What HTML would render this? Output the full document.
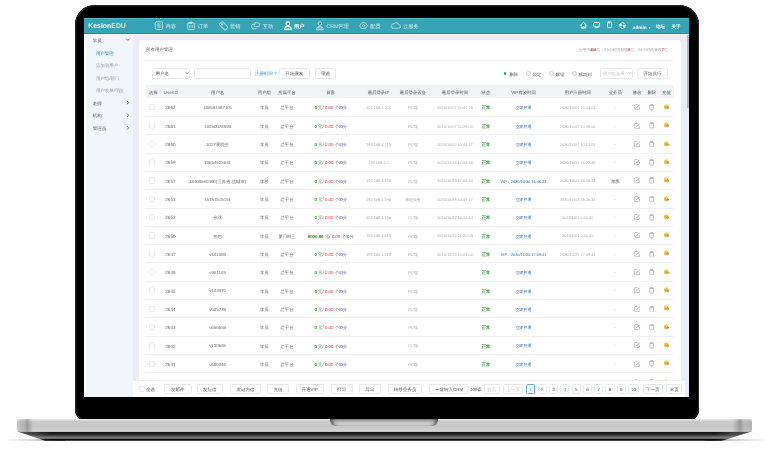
<!DOCTYPE html><html><head><meta charset="utf-8"><style>
*{margin:0;padding:0;box-sizing:border-box}
html,body{width:774px;height:455px;overflow:hidden;background:#fff}
body{position:relative;font-family:"Liberation Sans",sans-serif;color:#555}
.abs{position:absolute}
.t{position:absolute;white-space:nowrap;line-height:1;text-rendering:geometricPrecision}
.k{display:inline-block;width:1em;text-align:center;font-style:normal}
.scr{position:absolute;left:84px;top:18px;width:605px;height:379px;overflow:hidden;background:#eaedf5}
.in{position:absolute;left:-84px;top:-18px;width:774px;height:455px}
.bx{position:absolute;border:1px solid #e6e8ec;border-radius:1.5px;background:#fff}
.cb{position:absolute;width:6.2px;height:6.2px;border:0.9px solid #e6e8eb;border-radius:1.6px;background:#fff}
</style></head><body><div class="abs" style="left:0;top:0;width:774px;height:455px;filter:blur(.3px)">
<div class="abs" style="left:75px;top:5px;width:624px;height:417px;background:#000;border-radius:20px 20px 13px 13px;box-shadow:inset 0 0 0 1px #262626,inset 0 0 0 1.6px #111"></div>
<div class="abs" style="left:5px;top:439.3px;width:60px;height:1.6px;background:linear-gradient(90deg,rgba(0,0,0,0),rgba(0,0,0,.25) 70%,rgba(0,0,0,.5));filter:blur(.4px)"></div>
<div class="abs" style="left:705px;top:439.3px;width:62px;height:1.6px;background:linear-gradient(90deg,rgba(0,0,0,.5),rgba(0,0,0,.25) 30%,rgba(0,0,0,0));filter:blur(.4px)"></div>
<div class="abs" style="left:17px;top:431.2px;width:735px;height:9.5px;clip-path:polygon(0 0,100% 0,calc(100% - 30px) 100%,28px 100%);background:linear-gradient(90deg,rgba(140,140,140,.55) 0,rgba(140,140,140,.3) 18px,rgba(140,140,140,0) 34px,rgba(140,140,140,0) calc(100% - 36px),rgba(140,140,140,.3) calc(100% - 20px),rgba(140,140,140,.55) 100%),linear-gradient(#1e1e1e 0,#141414 18%,#2e2e2e 38%,#6a6a6a 60%,#878787 70%,#555 77%,#0a0a0a 85%,#050505 100%)"></div>
<div class="abs" style="left:17px;top:419px;width:735px;height:12.7px;border-radius:1.5px 1.5px 3px 3px;background:linear-gradient(90deg,rgba(255,255,255,.08) 0,rgba(0,0,0,.07) 3px,rgba(0,0,0,.1) 7px,rgba(0,0,0,.22) 10.5px,rgba(0,0,0,.1) 13.5px,rgba(0,0,0,0) 16px,rgba(0,0,0,0) calc(100% - 20px),rgba(0,0,0,.1) calc(100% - 16px),rgba(0,0,0,.24) calc(100% - 12px),rgba(0,0,0,.08) calc(100% - 8px),rgba(0,0,0,.1) 100%),linear-gradient(#f0f0f0 0,#dddddd 1.1px,#cacaca 2.3px,#c7c7c7 50%,#cbcbcb 75%,#d3d3d3 90%,#b8b8b8 100%)"></div>
<div class="abs" style="left:330px;top:419.3px;width:108px;height:6.7px;border-radius:0 0 6px 6px/0 0 6px 6px;background:linear-gradient(#8e8e8e,#bdbdbd 45%,#d2d2d2 80%,#dadada);box-shadow:inset 4px 0 3px -1px rgba(0,0,0,.45),inset -4px 0 3px -1px rgba(0,0,0,.45)"></div>
<div class="scr"><div class="in">
<div class="abs" style="left:84px;top:18px;width:605px;height:15.7px;background:#36a4b7;border-top:1px solid #45bccb;border-bottom:1.4px solid #1d91a4"></div>
<div class="abs" style="left:84px;top:33.7px;width:605px;height:1.1px;background:#fbfcff"></div>
<div class="t" style="left:88.30px;top:24px;font-size:6.9px;color:#fff;font-weight:bold">Kesion<span style="color:#ece394">EDU</span></div>
<svg class="abs" style="left:0;top:0" width="774" height="60" viewBox="0 0 774 60">
<g fill="none" stroke="rgba(255,255,255,.6)" stroke-width="0.95" stroke-linecap="round" stroke-linejoin="round">
<rect x="155.3" y="21.7" width="7.2" height="7.8" rx="1.3"/><path d="M157.4 24.1h3M157.4 25.7h3M157.4 27.3h3"/>
<rect x="187.6" y="22.7" width="6.8" height="7" rx="1.3"/><path d="M189.7 22.1h2.6v1.4h-2.6z"/><path d="M189.8 25.4v2.5M192.2 25.4v2.5"/>
<g transform="rotate(-45 223.6 25.85)"><rect x="221.4" y="21.6" width="4.4" height="8.5" rx="1"/><circle cx="223.6" cy="23.6" r=".6"/></g>
<rect x="254.3" y="22.8" width="5.1" height="3.9" rx="1"/><path d="M254.3 24.5h-1.6a1 1 0 0 0-1 1v2a1 1 0 0 0 1 1h.6v1l1.4-1h1.6"/>
<circle cx="319.9" cy="23.5" r="1.75"/><path d="M316.6 29.4c0-2 1.4-3.2 3.3-3.2s3.3 1.2 3.3 3.2z"/><circle cx="318.8" cy="28" r=".35"/><circle cx="321" cy="28" r=".35"/>
<path d="M359.8 25.6l2.1-2.9h3.5l2.1 2.9-2.1 2.9h-3.5z"/><circle cx="363.65" cy="25.6" r="1.1"/>
<path d="M392.6 28.2h6.2a1.7 1.7 0 0 0 .1-3.4a2.8 2.8 0 0 0-5.2-.7a1.9 1.9 0 0 0-1.1 4.1z"/>
</g>
<g fill="none" stroke="#fff" stroke-width="1.15" stroke-linecap="round" stroke-linejoin="round">
<circle cx="287.9" cy="23.8" r="1.9"/><path d="M284.6 29.4c0-2 1.4-3.1 3.3-3.1s3.3 1.1 3.3 3.1z"/>
</g>
<g fill="none" stroke="rgba(255,255,255,.92)" stroke-width="1" stroke-linecap="round" stroke-linejoin="round">
<path d="M580.4 25.3l3.1-3 3.1 3M581.3 24.6v3.4h4.4v-3.4M582.9 28v-1.6h1.2V28"/>
<rect x="593.6" y="22.5" width="6" height="4.2" rx="1"/><path d="M595.3 27.6h2.6"/>
<rect x="607.5" y="21.9" width="4" height="5.8" rx="1"/><path d="M609 23h1"/>
<path d="M620.3 24.1a2.6 2.6 0 0 1 4.6 0M624.8 27.1a2.6 2.6 0 0 1-4.6 0"/><path d="M619.4 25.5l1.1-1.6 1.2 1.3zM625.6 25.7l-1.1 1.6-1.2-1.3z" fill="#fff"/>
</g></svg>
<div class="t" style="left:165.50px;top:25px;font-size:5.2px;color:rgba(255,255,255,.82);"><i class="k">内</i><i class="k">容</i></div>
<div class="t" style="left:197.70px;top:25px;font-size:5.2px;color:rgba(255,255,255,.82);"><i class="k">订</i><i class="k">单</i></div>
<div class="t" style="left:230.00px;top:25px;font-size:5.2px;color:rgba(255,255,255,.82);"><i class="k">营</i><i class="k">销</i></div>
<div class="t" style="left:262.80px;top:25px;font-size:5.2px;color:rgba(255,255,255,.82);"><i class="k">互</i><i class="k">动</i></div>
<div class="t" style="left:294.00px;top:25px;font-size:5.2px;color:#fff;font-weight:bold"><i class="k">用</i><i class="k">户</i></div>
<div class="t" style="left:326.50px;top:25px;font-size:5.2px;color:rgba(255,255,255,.82);">CRM<i class="k">管</i><i class="k">理</i></div>
<div class="t" style="left:370.30px;top:25px;font-size:5.2px;color:rgba(255,255,255,.82);"><i class="k">配</i><i class="k">置</i></div>
<div class="t" style="left:403.00px;top:25px;font-size:5.2px;color:rgba(255,255,255,.82);"><i class="k">云</i><i class="k">服</i><i class="k">务</i></div>
<div class="t" style="left:632.80px;top:26px;font-size:4.7px;color:#fff;font-weight:bold">admin <span style="font-size:.7em">▼</span></div>
<div class="t" style="left:656.00px;top:25px;font-size:4.6px;color:#fff;font-weight:bold"><i class="k">论</i><i class="k">坛</i></div>
<div class="t" style="left:671.50px;top:25px;font-size:4.6px;color:#fff;font-weight:bold"><i class="k">关</i><i class="k">于</i></div>
<div class="abs" style="left:84px;top:35px;width:49px;height:362px;background:#fff"></div><div class="abs" style="left:85.8px;top:35px;width:47.2px;height:362px;background:#f2f5fc"></div>
<div class="t" style="left:92.80px;top:39px;font-size:4.45px;color:#555;"><i class="k">学</i><i class="k">员</i></div>
<svg class="abs" style="left:0;top:0" width="140" height="140"><path d="M126.2 38.60L127.9 40.40 129.6 38.60" fill="none" stroke="#666" stroke-width=".85"/></svg>
<div class="t" style="left:95.90px;top:52px;font-size:4.45px;color:#1b9ab0;"><i class="k">用</i><i class="k">户</i><i class="k">管</i><i class="k">理</i></div>
<div class="t" style="left:95.90px;top:64px;font-size:4.45px;color:#999;"><i class="k">添</i><i class="k">加</i><i class="k">新</i><i class="k">用</i><i class="k">户</i></div>
<div class="t" style="left:95.90px;top:77px;font-size:4.45px;color:#999;"><i class="k">用</i><i class="k">户</i><i class="k">组</i>/<i class="k">部</i><i class="k">门</i></div>
<div class="t" style="left:95.90px;top:89px;font-size:4.45px;color:#999;"><i class="k">用</i><i class="k">户</i><i class="k">表</i><i class="k">单</i>/<i class="k">字</i><i class="k">段</i></div>
<div class="t" style="left:92.80px;top:102px;font-size:4.45px;color:#555;"><i class="k">老</i><i class="k">师</i></div>
<svg class="abs" style="left:0;top:0" width="140" height="140"><path d="M126.9 100.80L128.7 102.60 126.9 104.40" fill="none" stroke="#666" stroke-width=".85"/></svg>
<div class="t" style="left:92.80px;top:114px;font-size:4.45px;color:#555;"><i class="k">机</i><i class="k">构</i></div>
<svg class="abs" style="left:0;top:0" width="140" height="140"><path d="M126.9 113.40L128.7 115.20 126.9 117.00" fill="none" stroke="#666" stroke-width=".85"/></svg>
<div class="t" style="left:92.80px;top:127px;font-size:4.45px;color:#555;"><i class="k">管</i><i class="k">理</i><i class="k">员</i></div>
<svg class="abs" style="left:0;top:0" width="140" height="140"><path d="M126.9 126.00L128.7 127.80 126.9 129.60" fill="none" stroke="#666" stroke-width=".85"/></svg>
<div class="abs" style="left:687px;top:35px;width:2.1px;height:73px;background:#b3b6bc"></div>
<div class="abs" style="left:138.8px;top:39.9px;width:542px;height:360px;background:#fff;border-radius:3px"></div>
<div class="t" style="left:146.00px;top:48px;font-size:4.45px;color:#555;"><i class="k">所</i><i class="k">有</i><i class="k">用</i><i class="k">户</i><i class="k">管</i><i class="k">理</i></div>
<div class="t" style="left:667.80px;top:48px;font-size:3.9px;color:#a0a0a0;transform:translateX(-100%);"><i class="k">总</i><i class="k">用</i><i class="k">户</i><b style="color:#f02020">406</b><i class="k">位</i><i class="k">，</i>24<i class="k">小</i><i class="k">时</i><i class="k">内</i><i class="k">新</i><i class="k">增</i><b style="color:#f02020">0</b><i class="k">位</i><i class="k">，</i>24<i class="k">小</i><i class="k">时</i><i class="k">内</i><i class="k">登</i><i class="k">录</i><b style="color:#f02020">7</b><i class="k">位</i></div>
<div class="abs" style="left:146px;top:60px;width:528px;height:1px;background:#eceef2"></div>
<div class="bx" style="left:152.1px;top:67.5px;width:38.2px;height:11.1px"></div>
<div class="t" style="left:155.40px;top:72px;font-size:4.5px;color:#555;"><i class="k">用</i><i class="k">户</i><i class="k">名</i></div>
<svg class="abs" style="left:0;top:0" width="200" height="90"><path d="M185.8 72.3L187.1 73.7 188.4 72.3" fill="none" stroke="#555" stroke-width=".75"/></svg>
<div class="bx" style="left:194.1px;top:67.5px;width:56.8px;height:11.1px"></div>
<div class="t" style="left:255.00px;top:72px;font-size:4.5px;color:#2a8ab8;"><i class="k">注</i><i class="k">册</i><i class="k">时</i><i class="k">间</i> ?</div>
<div class="bx" style="left:278.8px;top:67.5px;width:30.9px;height:11.1px"></div>
<div class="t" style="left:294.25px;top:72px;font-size:4.5px;color:#555;transform:translateX(-50%);"><i class="k">开</i><i class="k">始</i><i class="k">搜</i><i class="k">索</i></div>
<div class="bx" style="left:314.7px;top:67.5px;width:21.8px;height:11.1px"></div>
<div class="t" style="left:325.60px;top:72px;font-size:4.5px;color:#555;transform:translateX(-50%);"><i class="k">筛</i><i class="k">选</i></div>
<div class="abs" style="left:503.9px;top:72.2px;width:2.6px;height:2.6px;border-radius:50%;background:#14a38c"></div>
<div class="t" style="left:509.40px;top:73px;font-size:4.4px;color:#555;"><i class="k">删</i><i class="k">除</i></div>
<div class="abs" style="left:525.8px;top:71px;width:5px;height:5px;border-radius:50%;border:0.6px solid #d0d0d0"></div>
<div class="t" style="left:532.50px;top:73px;font-size:4.4px;color:#555;"><i class="k">锁</i><i class="k">定</i></div>
<div class="abs" style="left:548.9px;top:71px;width:5px;height:5px;border-radius:50%;border:0.6px solid #d0d0d0"></div>
<div class="t" style="left:555.60px;top:73px;font-size:4.4px;color:#555;"><i class="k">解</i><i class="k">锁</i></div>
<div class="abs" style="left:571.9px;top:71px;width:5px;height:5px;border-radius:50%;border:0.6px solid #d0d0d0"></div>
<div class="t" style="left:578.60px;top:73px;font-size:4.4px;color:#555;"><i class="k">移</i><i class="k">动</i><i class="k">到</i></div>
<div class="bx" style="left:600px;top:67.5px;width:33.4px;height:11.1px"></div>
<div class="t" style="left:603.00px;top:72px;font-size:4.3px;color:#c4c4c4;"><i class="k">用</i><i class="k">户</i><i class="k">组</i><i class="k">选</i><i class="k">择</i></div>
<svg class="abs" style="left:0;top:0" width="640" height="90"><path d="M628.4 72.3L629.7 73.7 631 72.3" fill="none" stroke="#999" stroke-width=".7"/></svg>
<div class="bx" style="left:637.3px;top:67.5px;width:30.7px;height:11.1px"></div>
<div class="t" style="left:652.60px;top:72px;font-size:4.5px;color:#555;transform:translateX(-50%);"><i class="k">开</i><i class="k">始</i><i class="k">执</i><i class="k">行</i></div>
<div class="abs" style="left:146px;top:85.1px;width:528px;height:12.9px;background:#f2f3f6"></div>
<div class="t" style="left:148.80px;top:91px;font-size:4.4px;color:#555;"><i class="k">选</i><i class="k">择</i></div>
<div class="t" style="left:163.60px;top:91px;font-size:4.55px;color:#777;">UserID</div>
<div class="t" style="left:217.60px;top:91px;font-size:4.4px;color:#555;transform:translateX(-50%);"><i class="k">用</i><i class="k">户</i><i class="k">名</i></div>
<div class="t" style="left:264.30px;top:91px;font-size:4.4px;color:#555;transform:translateX(-50%);"><i class="k">用</i><i class="k">户</i><i class="k">组</i></div>
<div class="t" style="left:287.00px;top:91px;font-size:4.4px;color:#555;transform:translateX(-50%);"><i class="k">所</i><i class="k">属</i><i class="k">平</i><i class="k">台</i></div>
<div class="t" style="left:330.80px;top:91px;font-size:4.4px;color:#555;transform:translateX(-50%);"><i class="k">财</i><i class="k">富</i></div>
<div class="t" style="left:378.50px;top:91px;font-size:4.4px;color:#555;transform:translateX(-50%);"><i class="k">最</i><i class="k">后</i><i class="k">登</i><i class="k">录</i>IP</div>
<div class="t" style="left:413.00px;top:91px;font-size:4.4px;color:#555;transform:translateX(-50%);"><i class="k">最</i><i class="k">后</i><i class="k">登</i><i class="k">录</i><i class="k">设</i><i class="k">备</i></div>
<div class="t" style="left:455.00px;top:91px;font-size:4.4px;color:#555;transform:translateX(-50%);"><i class="k">最</i><i class="k">后</i><i class="k">登</i><i class="k">录</i><i class="k">时</i><i class="k">间</i></div>
<div class="t" style="left:486.00px;top:91px;font-size:4.4px;color:#555;transform:translateX(-50%);"><i class="k">状</i><i class="k">态</i></div>
<div class="t" style="left:523.50px;top:91px;font-size:4.4px;color:#555;transform:translateX(-50%);">VIP<i class="k">有</i><i class="k">效</i><i class="k">时</i><i class="k">间</i></div>
<div class="t" style="left:577.70px;top:91px;font-size:4.4px;color:#555;transform:translateX(-50%);"><i class="k">用</i><i class="k">户</i><i class="k">注</i><i class="k">册</i><i class="k">时</i><i class="k">间</i></div>
<div class="t" style="left:615.20px;top:91px;font-size:4.4px;color:#555;transform:translateX(-50%);"><i class="k">业</i><i class="k">务</i><i class="k">员</i></div>
<div class="t" style="left:637.20px;top:91px;font-size:4.4px;color:#555;transform:translateX(-50%);"><i class="k">修</i><i class="k">改</i></div>
<div class="t" style="left:651.80px;top:91px;font-size:4.4px;color:#555;transform:translateX(-50%);"><i class="k">删</i><i class="k">除</i></div>
<div class="t" style="left:666.50px;top:91px;font-size:4.4px;color:#555;transform:translateX(-50%);"><i class="k">充</i><i class="k">值</i></div>
<div class="abs" style="left:146px;top:115.92px;width:528px;height:1px;background:#edf1f1"></div>
<div class="cb" style="left:149.3px;top:104.21px"></div>
<div class="t" style="left:165.30px;top:106px;font-size:4.6px;color:#6e6e6e;">2662</div>
<div class="t" style="left:217.60px;top:106px;font-size:4.4px;color:#6e6e6e;transform:translateX(-50%);">180691387101</div>
<div class="t" style="left:264.30px;top:106px;font-size:4.4px;color:#666;transform:translateX(-50%);"><i class="k">学</i><i class="k">员</i></div>
<div class="t" style="left:287.00px;top:106px;font-size:4.4px;color:#666;transform:translateX(-50%);"><i class="k">总</i><i class="k">平</i><i class="k">台</i></div>
<div class="t" style="left:378.50px;top:106px;font-size:3.9px;color:#aaa;transform:translateX(-50%);">192.168.1.206</div>
<div class="t" style="left:413.00px;top:106px;font-size:3.95px;color:#a8a8a8;transform:translateX(-50%);">PC<i class="k">端</i></div>
<div class="t" style="left:455.00px;top:106px;font-size:3.9px;color:#aaa;transform:translateX(-50%);">2020/10/07 10:41:26</div>
<div class="t" style="left:577.70px;top:106px;font-size:3.9px;color:#aaa;transform:translateX(-50%);">2020/10/07 10:41:01</div>
<div class="t" style="left:615.20px;top:106px;font-size:4.4px;color:#666;transform:translateX(-50%);">-</div>
<div class="t" style="left:330.80px;top:106px;font-size:4.4px;color:#666;transform:translateX(-50%);"><b style="color:#1f9a1f">0</b> <i class="k">元</i>/ <span style="color:#f02b2b">0.00</span> <i class="k">个</i>/<span style="color:#2a45e0">0</span><i class="k">分</i></div>
<div class="t" style="left:486.00px;top:106px;font-size:4.35px;color:#23952a;transform:translateX(-50%);font-weight:bold"><i class="k">正</i><i class="k">常</i></div>
<div class="t" style="left:523.50px;top:106px;font-size:3.95px;color:#22609e;transform:translateX(-50%);"><i class="k">立</i><i class="k">即</i><i class="k">开</i><i class="k">通</i></div>
<div class="abs" style="left:634.1px;top:104.21px;line-height:0"><svg width="6.6" height="6.2" viewBox="0 0 66 62"><path d="M36 6H11a5 5 0 0 0-5 5v40a5 5 0 0 0 5 5h40a5 5 0 0 0 5-5V27" fill="none" stroke="#aaa" stroke-width="6.5"/><path d="M20 44L58 6" stroke="#999" stroke-width="9"/></svg></div>
<div class="abs" style="left:649.0999999999999px;top:104.01px;line-height:0"><svg width="5.4" height="6.6" viewBox="0 0 54 66"><path d="M4 12H50M18 12V5H36V12" fill="none" stroke="#aaa" stroke-width="6"/><rect x="8" y="12" width="38" height="49" rx="8" fill="none" stroke="#a6a6a6" stroke-width="6.5"/><path d="M27 26V46" stroke="#c8c8c8" stroke-width="4"/></svg></div>
<div class="abs" style="left:663.7px;top:103.91px;line-height:0"><svg width="5.8" height="5.6" viewBox="0 0 58 56"><rect x="3" y="10" width="30" height="40" rx="12" fill="#f6a52a"/><circle cx="24" cy="16" r="13" fill="#fac934"/><path d="M30 18L58 34 34 54z" fill="#5fbf2a"/></svg></div>
<div class="abs" style="left:146px;top:134.24px;width:528px;height:1px;background:#edf1f1"></div>
<div class="cb" style="left:149.3px;top:122.53px"></div>
<div class="t" style="left:165.30px;top:125px;font-size:4.6px;color:#6e6e6e;">2661</div>
<div class="t" style="left:217.60px;top:125px;font-size:4.4px;color:#6e6e6e;transform:translateX(-50%);">18050078599</div>
<div class="t" style="left:264.30px;top:125px;font-size:4.4px;color:#666;transform:translateX(-50%);"><i class="k">学</i><i class="k">员</i></div>
<div class="t" style="left:287.00px;top:125px;font-size:4.4px;color:#666;transform:translateX(-50%);"><i class="k">总</i><i class="k">平</i><i class="k">台</i></div>
<div class="t" style="left:413.00px;top:125px;font-size:3.95px;color:#a8a8a8;transform:translateX(-50%);">PC<i class="k">端</i></div>
<div class="t" style="left:455.00px;top:125px;font-size:3.9px;color:#aaa;transform:translateX(-50%);">2020/10/07 10:26:00</div>
<div class="t" style="left:577.70px;top:125px;font-size:3.9px;color:#aaa;transform:translateX(-50%);">2020/10/07 10:26:00</div>
<div class="t" style="left:615.20px;top:125px;font-size:4.4px;color:#666;transform:translateX(-50%);">-</div>
<div class="t" style="left:330.80px;top:125px;font-size:4.4px;color:#666;transform:translateX(-50%);"><b style="color:#1f9a1f">0</b> <i class="k">元</i>/ <span style="color:#f02b2b">0.00</span> <i class="k">个</i>/<span style="color:#2a45e0">0</span><i class="k">分</i></div>
<div class="t" style="left:486.00px;top:125px;font-size:4.35px;color:#23952a;transform:translateX(-50%);font-weight:bold"><i class="k">正</i><i class="k">常</i></div>
<div class="t" style="left:523.50px;top:125px;font-size:3.95px;color:#22609e;transform:translateX(-50%);"><i class="k">立</i><i class="k">即</i><i class="k">开</i><i class="k">通</i></div>
<div class="abs" style="left:634.1px;top:122.53px;line-height:0"><svg width="6.6" height="6.2" viewBox="0 0 66 62"><path d="M36 6H11a5 5 0 0 0-5 5v40a5 5 0 0 0 5 5h40a5 5 0 0 0 5-5V27" fill="none" stroke="#aaa" stroke-width="6.5"/><path d="M20 44L58 6" stroke="#999" stroke-width="9"/></svg></div>
<div class="abs" style="left:649.0999999999999px;top:122.33px;line-height:0"><svg width="5.4" height="6.6" viewBox="0 0 54 66"><path d="M4 12H50M18 12V5H36V12" fill="none" stroke="#aaa" stroke-width="6"/><rect x="8" y="12" width="38" height="49" rx="8" fill="none" stroke="#a6a6a6" stroke-width="6.5"/><path d="M27 26V46" stroke="#c8c8c8" stroke-width="4"/></svg></div>
<div class="abs" style="left:663.7px;top:122.23px;line-height:0"><svg width="5.8" height="5.6" viewBox="0 0 58 56"><rect x="3" y="10" width="30" height="40" rx="12" fill="#f6a52a"/><circle cx="24" cy="16" r="13" fill="#fac934"/><path d="M30 18L58 34 34 54z" fill="#5fbf2a"/></svg></div>
<div class="abs" style="left:146px;top:152.56px;width:528px;height:1px;background:#edf1f1"></div>
<div class="cb" style="left:149.3px;top:140.85px"></div>
<div class="t" style="left:165.30px;top:143px;font-size:4.6px;color:#6e6e6e;">2660</div>
<div class="t" style="left:217.60px;top:143px;font-size:4.4px;color:#6e6e6e;transform:translateX(-50%);">1027<i class="k">黄</i><i class="k">晓</i><i class="k">生</i></div>
<div class="t" style="left:264.30px;top:143px;font-size:4.4px;color:#666;transform:translateX(-50%);"><i class="k">学</i><i class="k">员</i></div>
<div class="t" style="left:287.00px;top:143px;font-size:4.4px;color:#666;transform:translateX(-50%);"><i class="k">总</i><i class="k">平</i><i class="k">台</i></div>
<div class="t" style="left:378.50px;top:143px;font-size:3.9px;color:#aaa;transform:translateX(-50%);">192.168.1.119</div>
<div class="t" style="left:413.00px;top:143px;font-size:3.95px;color:#a8a8a8;transform:translateX(-50%);">PC<i class="k">端</i></div>
<div class="t" style="left:455.00px;top:143px;font-size:3.9px;color:#aaa;transform:translateX(-50%);">2020/10/07 10:44:27</div>
<div class="t" style="left:577.70px;top:143px;font-size:3.9px;color:#aaa;transform:translateX(-50%);">2020/10/07 10:12:51</div>
<div class="t" style="left:615.20px;top:143px;font-size:4.4px;color:#666;transform:translateX(-50%);">-</div>
<div class="t" style="left:330.80px;top:143px;font-size:4.4px;color:#666;transform:translateX(-50%);"><b style="color:#1f9a1f">0</b> <i class="k">元</i>/ <span style="color:#f02b2b">0.00</span> <i class="k">个</i>/<span style="color:#2a45e0">0</span><i class="k">分</i></div>
<div class="t" style="left:486.00px;top:143px;font-size:4.35px;color:#23952a;transform:translateX(-50%);font-weight:bold"><i class="k">正</i><i class="k">常</i></div>
<div class="t" style="left:523.50px;top:143px;font-size:3.95px;color:#22609e;transform:translateX(-50%);"><i class="k">立</i><i class="k">即</i><i class="k">开</i><i class="k">通</i></div>
<div class="abs" style="left:634.1px;top:140.85px;line-height:0"><svg width="6.6" height="6.2" viewBox="0 0 66 62"><path d="M36 6H11a5 5 0 0 0-5 5v40a5 5 0 0 0 5 5h40a5 5 0 0 0 5-5V27" fill="none" stroke="#aaa" stroke-width="6.5"/><path d="M20 44L58 6" stroke="#999" stroke-width="9"/></svg></div>
<div class="abs" style="left:649.0999999999999px;top:140.65px;line-height:0"><svg width="5.4" height="6.6" viewBox="0 0 54 66"><path d="M4 12H50M18 12V5H36V12" fill="none" stroke="#aaa" stroke-width="6"/><rect x="8" y="12" width="38" height="49" rx="8" fill="none" stroke="#a6a6a6" stroke-width="6.5"/><path d="M27 26V46" stroke="#c8c8c8" stroke-width="4"/></svg></div>
<div class="abs" style="left:663.7px;top:140.55px;line-height:0"><svg width="5.8" height="5.6" viewBox="0 0 58 56"><rect x="3" y="10" width="30" height="40" rx="12" fill="#f6a52a"/><circle cx="24" cy="16" r="13" fill="#fac934"/><path d="M30 18L58 34 34 54z" fill="#5fbf2a"/></svg></div>
<div class="abs" style="left:146px;top:170.88px;width:528px;height:1px;background:#edf1f1"></div>
<div class="cb" style="left:149.3px;top:159.17px"></div>
<div class="t" style="left:165.30px;top:161px;font-size:4.6px;color:#6e6e6e;">2659</div>
<div class="t" style="left:217.60px;top:161px;font-size:4.4px;color:#6e6e6e;transform:translateX(-50%);">13654525631</div>
<div class="t" style="left:264.30px;top:161px;font-size:4.4px;color:#666;transform:translateX(-50%);"><i class="k">学</i><i class="k">员</i></div>
<div class="t" style="left:287.00px;top:161px;font-size:4.4px;color:#666;transform:translateX(-50%);"><i class="k">总</i><i class="k">平</i><i class="k">台</i></div>
<div class="t" style="left:378.50px;top:161px;font-size:3.9px;color:#aaa;transform:translateX(-50%);">192.168.1.2</div>
<div class="t" style="left:413.00px;top:161px;font-size:3.95px;color:#a8a8a8;transform:translateX(-50%);">PC<i class="k">端</i></div>
<div class="t" style="left:455.00px;top:161px;font-size:3.9px;color:#aaa;transform:translateX(-50%);">2020/10/24 17:06:26</div>
<div class="t" style="left:577.70px;top:161px;font-size:3.9px;color:#aaa;transform:translateX(-50%);">2020/10/24 16:22:49</div>
<div class="t" style="left:615.20px;top:161px;font-size:4.4px;color:#666;transform:translateX(-50%);">-</div>
<div class="t" style="left:330.80px;top:161px;font-size:4.4px;color:#666;transform:translateX(-50%);"><b style="color:#1f9a1f">0</b> <i class="k">元</i>/ <span style="color:#f02b2b">0.00</span> <i class="k">个</i>/<span style="color:#2a45e0">0</span><i class="k">分</i></div>
<div class="t" style="left:486.00px;top:161px;font-size:4.35px;color:#23952a;transform:translateX(-50%);font-weight:bold"><i class="k">正</i><i class="k">常</i></div>
<div class="t" style="left:523.50px;top:161px;font-size:3.95px;color:#22609e;transform:translateX(-50%);"><i class="k">立</i><i class="k">即</i><i class="k">开</i><i class="k">通</i></div>
<div class="abs" style="left:634.1px;top:159.17px;line-height:0"><svg width="6.6" height="6.2" viewBox="0 0 66 62"><path d="M36 6H11a5 5 0 0 0-5 5v40a5 5 0 0 0 5 5h40a5 5 0 0 0 5-5V27" fill="none" stroke="#aaa" stroke-width="6.5"/><path d="M20 44L58 6" stroke="#999" stroke-width="9"/></svg></div>
<div class="abs" style="left:649.0999999999999px;top:158.97px;line-height:0"><svg width="5.4" height="6.6" viewBox="0 0 54 66"><path d="M4 12H50M18 12V5H36V12" fill="none" stroke="#aaa" stroke-width="6"/><rect x="8" y="12" width="38" height="49" rx="8" fill="none" stroke="#a6a6a6" stroke-width="6.5"/><path d="M27 26V46" stroke="#c8c8c8" stroke-width="4"/></svg></div>
<div class="abs" style="left:663.7px;top:158.87px;line-height:0"><svg width="5.8" height="5.6" viewBox="0 0 58 56"><rect x="3" y="10" width="30" height="40" rx="12" fill="#f6a52a"/><circle cx="24" cy="16" r="13" fill="#fac934"/><path d="M30 18L58 34 34 54z" fill="#5fbf2a"/></svg></div>
<div class="abs" style="left:146px;top:189.20px;width:528px;height:1px;background:#edf1f1"></div>
<div class="cb" style="left:149.3px;top:177.49px"></div>
<div class="t" style="left:165.30px;top:180px;font-size:4.6px;color:#6e6e6e;">2657</div>
<div class="t" style="left:217.60px;top:180px;font-size:4.4px;color:#6e6e6e;transform:translateX(-50%);">13400680490(<i class="k">江</i><i class="k">苏</i><i class="k">省</i>,<i class="k">盐</i><i class="k">城</i><i class="k">市</i>)</div>
<div class="t" style="left:264.30px;top:180px;font-size:4.4px;color:#666;transform:translateX(-50%);"><i class="k">学</i><i class="k">校</i></div>
<div class="t" style="left:287.00px;top:180px;font-size:4.4px;color:#666;transform:translateX(-50%);"><i class="k">总</i><i class="k">平</i><i class="k">台</i></div>
<div class="t" style="left:378.50px;top:179px;font-size:3.9px;color:#aaa;transform:translateX(-50%);">192.168.1.196</div>
<div class="t" style="left:413.00px;top:180px;font-size:3.95px;color:#a8a8a8;transform:translateX(-50%);">PC<i class="k">端</i></div>
<div class="t" style="left:455.00px;top:179px;font-size:3.9px;color:#aaa;transform:translateX(-50%);">2020/10/23 17:05:34</div>
<div class="t" style="left:577.70px;top:179px;font-size:3.9px;color:#aaa;transform:translateX(-50%);">2020/10/03 15:46:23</div>
<div class="t" style="left:615.20px;top:180px;font-size:4.4px;color:#666;transform:translateX(-50%);"><i class="k">海</i><i class="k">豚</i></div>
<div class="t" style="left:330.80px;top:180px;font-size:4.4px;color:#666;transform:translateX(-50%);"><b style="color:#1f9a1f">0</b> <i class="k">元</i>/ <span style="color:#f02b2b">0.00</span> <i class="k">个</i>/<span style="color:#2a45e0">0</span><i class="k">分</i></div>
<div class="t" style="left:486.00px;top:180px;font-size:4.35px;color:#23952a;transform:translateX(-50%);font-weight:bold"><i class="k">正</i><i class="k">常</i></div>
<div class="t" style="left:523.50px;top:180px;font-size:3.9px;color:#2468a8;transform:translateX(-50%);">VIP<i class="k">：</i>2020/10/30 15:46:23</div>
<div class="abs" style="left:634.1px;top:177.49px;line-height:0"><svg width="6.6" height="6.2" viewBox="0 0 66 62"><path d="M36 6H11a5 5 0 0 0-5 5v40a5 5 0 0 0 5 5h40a5 5 0 0 0 5-5V27" fill="none" stroke="#aaa" stroke-width="6.5"/><path d="M20 44L58 6" stroke="#999" stroke-width="9"/></svg></div>
<div class="abs" style="left:649.0999999999999px;top:177.29px;line-height:0"><svg width="5.4" height="6.6" viewBox="0 0 54 66"><path d="M4 12H50M18 12V5H36V12" fill="none" stroke="#aaa" stroke-width="6"/><rect x="8" y="12" width="38" height="49" rx="8" fill="none" stroke="#a6a6a6" stroke-width="6.5"/><path d="M27 26V46" stroke="#c8c8c8" stroke-width="4"/></svg></div>
<div class="abs" style="left:663.7px;top:177.19px;line-height:0"><svg width="5.8" height="5.6" viewBox="0 0 58 56"><rect x="3" y="10" width="30" height="40" rx="12" fill="#f6a52a"/><circle cx="24" cy="16" r="13" fill="#fac934"/><path d="M30 18L58 34 34 54z" fill="#5fbf2a"/></svg></div>
<div class="abs" style="left:146px;top:207.52px;width:528px;height:1px;background:#edf1f1"></div>
<div class="cb" style="left:149.3px;top:195.81px"></div>
<div class="t" style="left:165.30px;top:198px;font-size:4.6px;color:#6e6e6e;">2653</div>
<div class="t" style="left:217.60px;top:198px;font-size:4.4px;color:#6e6e6e;transform:translateX(-50%);">15151515151</div>
<div class="t" style="left:264.30px;top:198px;font-size:4.4px;color:#666;transform:translateX(-50%);"><i class="k">学</i><i class="k">员</i></div>
<div class="t" style="left:287.00px;top:198px;font-size:4.4px;color:#666;transform:translateX(-50%);"><i class="k">总</i><i class="k">平</i><i class="k">台</i></div>
<div class="t" style="left:378.50px;top:198px;font-size:3.9px;color:#aaa;transform:translateX(-50%);">192.168.1.196</div>
<div class="t" style="left:413.00px;top:198px;font-size:3.95px;color:#a8a8a8;transform:translateX(-50%);"><i class="k">移</i><i class="k">动</i><i class="k">设</i><i class="k">备</i></div>
<div class="t" style="left:455.00px;top:198px;font-size:3.9px;color:#aaa;transform:translateX(-50%);">2020/10/24 10:49:17</div>
<div class="t" style="left:577.70px;top:198px;font-size:3.9px;color:#aaa;transform:translateX(-50%);">2020/10/03 18:30:33</div>
<div class="t" style="left:615.20px;top:198px;font-size:4.4px;color:#666;transform:translateX(-50%);">-</div>
<div class="t" style="left:330.80px;top:198px;font-size:4.4px;color:#666;transform:translateX(-50%);"><b style="color:#1f9a1f">0</b> <i class="k">元</i>/ <span style="color:#f02b2b">0.00</span> <i class="k">个</i>/<span style="color:#2a45e0">0</span><i class="k">分</i></div>
<div class="t" style="left:486.00px;top:198px;font-size:4.35px;color:#23952a;transform:translateX(-50%);font-weight:bold"><i class="k">正</i><i class="k">常</i></div>
<div class="t" style="left:523.50px;top:198px;font-size:3.95px;color:#22609e;transform:translateX(-50%);"><i class="k">立</i><i class="k">即</i><i class="k">开</i><i class="k">通</i></div>
<div class="abs" style="left:634.1px;top:195.81px;line-height:0"><svg width="6.6" height="6.2" viewBox="0 0 66 62"><path d="M36 6H11a5 5 0 0 0-5 5v40a5 5 0 0 0 5 5h40a5 5 0 0 0 5-5V27" fill="none" stroke="#aaa" stroke-width="6.5"/><path d="M20 44L58 6" stroke="#999" stroke-width="9"/></svg></div>
<div class="abs" style="left:649.0999999999999px;top:195.61px;line-height:0"><svg width="5.4" height="6.6" viewBox="0 0 54 66"><path d="M4 12H50M18 12V5H36V12" fill="none" stroke="#aaa" stroke-width="6"/><rect x="8" y="12" width="38" height="49" rx="8" fill="none" stroke="#a6a6a6" stroke-width="6.5"/><path d="M27 26V46" stroke="#c8c8c8" stroke-width="4"/></svg></div>
<div class="abs" style="left:663.7px;top:195.51px;line-height:0"><svg width="5.8" height="5.6" viewBox="0 0 58 56"><rect x="3" y="10" width="30" height="40" rx="12" fill="#f6a52a"/><circle cx="24" cy="16" r="13" fill="#fac934"/><path d="M30 18L58 34 34 54z" fill="#5fbf2a"/></svg></div>
<div class="abs" style="left:146px;top:225.84px;width:528px;height:1px;background:#edf1f1"></div>
<div class="cb" style="left:149.3px;top:214.13px"></div>
<div class="t" style="left:165.30px;top:216px;font-size:4.6px;color:#6e6e6e;">2652</div>
<div class="t" style="left:217.60px;top:216px;font-size:4.4px;color:#6e6e6e;transform:translateX(-50%);"><i class="k">金</i><i class="k">球</i></div>
<div class="t" style="left:264.30px;top:216px;font-size:4.4px;color:#666;transform:translateX(-50%);"><i class="k">学</i><i class="k">员</i></div>
<div class="t" style="left:287.00px;top:216px;font-size:4.4px;color:#666;transform:translateX(-50%);"><i class="k">总</i><i class="k">平</i><i class="k">台</i></div>
<div class="t" style="left:378.50px;top:216px;font-size:3.9px;color:#aaa;transform:translateX(-50%);">192.168.1.196</div>
<div class="t" style="left:413.00px;top:216px;font-size:3.95px;color:#a8a8a8;transform:translateX(-50%);">PC<i class="k">端</i></div>
<div class="t" style="left:455.00px;top:216px;font-size:3.9px;color:#aaa;transform:translateX(-50%);">2020/10/22 16:06:54</div>
<div class="t" style="left:577.70px;top:216px;font-size:3.9px;color:#aaa;transform:translateX(-50%);">2019/10/1 0:00:00</div>
<div class="t" style="left:615.20px;top:216px;font-size:4.4px;color:#666;transform:translateX(-50%);">-</div>
<div class="t" style="left:330.80px;top:216px;font-size:4.4px;color:#666;transform:translateX(-50%);"><b style="color:#1f9a1f">0</b> <i class="k">元</i>/ <span style="color:#f02b2b">0.00</span> <i class="k">个</i>/<span style="color:#2a45e0">0</span><i class="k">分</i></div>
<div class="t" style="left:486.00px;top:216px;font-size:4.35px;color:#23952a;transform:translateX(-50%);font-weight:bold"><i class="k">正</i><i class="k">常</i></div>
<div class="t" style="left:523.50px;top:216px;font-size:3.95px;color:#22609e;transform:translateX(-50%);"><i class="k">立</i><i class="k">即</i><i class="k">开</i><i class="k">通</i></div>
<div class="abs" style="left:634.1px;top:214.13px;line-height:0"><svg width="6.6" height="6.2" viewBox="0 0 66 62"><path d="M36 6H11a5 5 0 0 0-5 5v40a5 5 0 0 0 5 5h40a5 5 0 0 0 5-5V27" fill="none" stroke="#aaa" stroke-width="6.5"/><path d="M20 44L58 6" stroke="#999" stroke-width="9"/></svg></div>
<div class="abs" style="left:649.0999999999999px;top:213.93px;line-height:0"><svg width="5.4" height="6.6" viewBox="0 0 54 66"><path d="M4 12H50M18 12V5H36V12" fill="none" stroke="#aaa" stroke-width="6"/><rect x="8" y="12" width="38" height="49" rx="8" fill="none" stroke="#a6a6a6" stroke-width="6.5"/><path d="M27 26V46" stroke="#c8c8c8" stroke-width="4"/></svg></div>
<div class="abs" style="left:663.7px;top:213.83px;line-height:0"><svg width="5.8" height="5.6" viewBox="0 0 58 56"><rect x="3" y="10" width="30" height="40" rx="12" fill="#f6a52a"/><circle cx="24" cy="16" r="13" fill="#fac934"/><path d="M30 18L58 34 34 54z" fill="#5fbf2a"/></svg></div>
<div class="abs" style="left:146px;top:244.16px;width:528px;height:1px;background:#edf1f1"></div>
<div class="cb" style="left:149.3px;top:232.45px"></div>
<div class="t" style="left:165.30px;top:235px;font-size:4.6px;color:#6e6e6e;">2650</div>
<div class="t" style="left:217.60px;top:235px;font-size:4.4px;color:#6e6e6e;transform:translateX(-50%);"><i class="k">包</i><i class="k">包</i></div>
<div class="t" style="left:264.30px;top:235px;font-size:4.4px;color:#666;transform:translateX(-50%);"><i class="k">学</i><i class="k">员</i></div>
<div class="t" style="left:287.00px;top:235px;font-size:4.4px;color:#666;transform:translateX(-50%);"><i class="k">厦</i><i class="k">门</i><i class="k">科</i><i class="k">三</i></div>
<div class="t" style="left:378.50px;top:234px;font-size:3.9px;color:#aaa;transform:translateX(-50%);">192.168.1.119</div>
<div class="t" style="left:413.00px;top:235px;font-size:3.95px;color:#a8a8a8;transform:translateX(-50%);">PC<i class="k">端</i></div>
<div class="t" style="left:455.00px;top:234px;font-size:3.9px;color:#aaa;transform:translateX(-50%);">2020/10/22 16:20:09</div>
<div class="t" style="left:577.70px;top:234px;font-size:3.9px;color:#aaa;transform:translateX(-50%);">2019/10/1 0:00:00</div>
<div class="t" style="left:615.20px;top:234px;font-size:4.4px;color:#666;transform:translateX(-50%);">-</div>
<div class="t" style="left:330.80px;top:235px;font-size:4.4px;color:#666;transform:translateX(-50%);"><b style="color:#1f9a1f">9000.99</b> <i class="k">元</i>/ <span style="color:#f02b2b">0.00</span> <i class="k">个</i>/<span style="color:#2a45e0">0</span><i class="k">分</i></div>
<div class="t" style="left:486.00px;top:235px;font-size:4.35px;color:#23952a;transform:translateX(-50%);font-weight:bold"><i class="k">正</i><i class="k">常</i></div>
<div class="t" style="left:523.50px;top:235px;font-size:3.95px;color:#22609e;transform:translateX(-50%);"><i class="k">立</i><i class="k">即</i><i class="k">开</i><i class="k">通</i></div>
<div class="abs" style="left:634.1px;top:232.45px;line-height:0"><svg width="6.6" height="6.2" viewBox="0 0 66 62"><path d="M36 6H11a5 5 0 0 0-5 5v40a5 5 0 0 0 5 5h40a5 5 0 0 0 5-5V27" fill="none" stroke="#aaa" stroke-width="6.5"/><path d="M20 44L58 6" stroke="#999" stroke-width="9"/></svg></div>
<div class="abs" style="left:649.0999999999999px;top:232.25px;line-height:0"><svg width="5.4" height="6.6" viewBox="0 0 54 66"><path d="M4 12H50M18 12V5H36V12" fill="none" stroke="#aaa" stroke-width="6"/><rect x="8" y="12" width="38" height="49" rx="8" fill="none" stroke="#a6a6a6" stroke-width="6.5"/><path d="M27 26V46" stroke="#c8c8c8" stroke-width="4"/></svg></div>
<div class="abs" style="left:663.7px;top:232.15px;line-height:0"><svg width="5.8" height="5.6" viewBox="0 0 58 56"><rect x="3" y="10" width="30" height="40" rx="12" fill="#f6a52a"/><circle cx="24" cy="16" r="13" fill="#fac934"/><path d="M30 18L58 34 34 54z" fill="#5fbf2a"/></svg></div>
<div class="abs" style="left:146px;top:262.48px;width:528px;height:1px;background:#edf1f1"></div>
<div class="cb" style="left:149.3px;top:250.77px"></div>
<div class="t" style="left:165.30px;top:253px;font-size:4.6px;color:#6e6e6e;">2647</div>
<div class="t" style="left:217.60px;top:253px;font-size:4.4px;color:#6e6e6e;transform:translateX(-50%);">v441389</div>
<div class="t" style="left:264.30px;top:253px;font-size:4.4px;color:#666;transform:translateX(-50%);"><i class="k">学</i><i class="k">员</i></div>
<div class="t" style="left:287.00px;top:253px;font-size:4.4px;color:#666;transform:translateX(-50%);"><i class="k">总</i><i class="k">平</i><i class="k">台</i></div>
<div class="t" style="left:378.50px;top:253px;font-size:3.9px;color:#aaa;transform:translateX(-50%);">192.168.1.119</div>
<div class="t" style="left:413.00px;top:253px;font-size:3.95px;color:#a8a8a8;transform:translateX(-50%);">PC<i class="k">端</i></div>
<div class="t" style="left:455.00px;top:253px;font-size:3.9px;color:#aaa;transform:translateX(-50%);">2020/10/24 10:09:00</div>
<div class="t" style="left:577.70px;top:253px;font-size:3.9px;color:#aaa;transform:translateX(-50%);">2020/10/21 17:49:41</div>
<div class="t" style="left:615.20px;top:253px;font-size:4.4px;color:#666;transform:translateX(-50%);">-</div>
<div class="t" style="left:330.80px;top:253px;font-size:4.4px;color:#666;transform:translateX(-50%);"><b style="color:#1f9a1f">0</b> <i class="k">元</i>/ <span style="color:#f02b2b">0.00</span> <i class="k">个</i>/<span style="color:#2a45e0">0</span><i class="k">分</i></div>
<div class="t" style="left:486.00px;top:253px;font-size:4.35px;color:#23952a;transform:translateX(-50%);font-weight:bold"><i class="k">正</i><i class="k">常</i></div>
<div class="t" style="left:523.50px;top:253px;font-size:3.9px;color:#2468a8;transform:translateX(-50%);">VIP<i class="k">：</i>2020/11/30 17:49:41</div>
<div class="abs" style="left:634.1px;top:250.77px;line-height:0"><svg width="6.6" height="6.2" viewBox="0 0 66 62"><path d="M36 6H11a5 5 0 0 0-5 5v40a5 5 0 0 0 5 5h40a5 5 0 0 0 5-5V27" fill="none" stroke="#aaa" stroke-width="6.5"/><path d="M20 44L58 6" stroke="#999" stroke-width="9"/></svg></div>
<div class="abs" style="left:649.0999999999999px;top:250.57px;line-height:0"><svg width="5.4" height="6.6" viewBox="0 0 54 66"><path d="M4 12H50M18 12V5H36V12" fill="none" stroke="#aaa" stroke-width="6"/><rect x="8" y="12" width="38" height="49" rx="8" fill="none" stroke="#a6a6a6" stroke-width="6.5"/><path d="M27 26V46" stroke="#c8c8c8" stroke-width="4"/></svg></div>
<div class="abs" style="left:663.7px;top:250.47px;line-height:0"><svg width="5.8" height="5.6" viewBox="0 0 58 56"><rect x="3" y="10" width="30" height="40" rx="12" fill="#f6a52a"/><circle cx="24" cy="16" r="13" fill="#fac934"/><path d="M30 18L58 34 34 54z" fill="#5fbf2a"/></svg></div>
<div class="abs" style="left:146px;top:280.80px;width:528px;height:1px;background:#edf1f1"></div>
<div class="cb" style="left:149.3px;top:269.09px"></div>
<div class="t" style="left:165.30px;top:271px;font-size:4.6px;color:#6e6e6e;">2646</div>
<div class="t" style="left:217.60px;top:271px;font-size:4.4px;color:#6e6e6e;transform:translateX(-50%);">v961105</div>
<div class="t" style="left:264.30px;top:271px;font-size:4.4px;color:#666;transform:translateX(-50%);"><i class="k">学</i><i class="k">员</i></div>
<div class="t" style="left:287.00px;top:271px;font-size:4.4px;color:#666;transform:translateX(-50%);"><i class="k">总</i><i class="k">平</i><i class="k">台</i></div>
<div class="t" style="left:413.00px;top:271px;font-size:3.95px;color:#a8a8a8;transform:translateX(-50%);">PC<i class="k">端</i></div>
<div class="t" style="left:615.20px;top:271px;font-size:4.4px;color:#666;transform:translateX(-50%);">-</div>
<div class="t" style="left:330.80px;top:271px;font-size:4.4px;color:#666;transform:translateX(-50%);"><b style="color:#1f9a1f">0</b> <i class="k">元</i>/ <span style="color:#f02b2b">0.00</span> <i class="k">个</i>/<span style="color:#2a45e0">0</span><i class="k">分</i></div>
<div class="t" style="left:486.00px;top:271px;font-size:4.35px;color:#23952a;transform:translateX(-50%);font-weight:bold"><i class="k">正</i><i class="k">常</i></div>
<div class="t" style="left:523.50px;top:271px;font-size:3.95px;color:#22609e;transform:translateX(-50%);"><i class="k">立</i><i class="k">即</i><i class="k">开</i><i class="k">通</i></div>
<div class="abs" style="left:634.1px;top:269.09px;line-height:0"><svg width="6.6" height="6.2" viewBox="0 0 66 62"><path d="M36 6H11a5 5 0 0 0-5 5v40a5 5 0 0 0 5 5h40a5 5 0 0 0 5-5V27" fill="none" stroke="#aaa" stroke-width="6.5"/><path d="M20 44L58 6" stroke="#999" stroke-width="9"/></svg></div>
<div class="abs" style="left:649.0999999999999px;top:268.89px;line-height:0"><svg width="5.4" height="6.6" viewBox="0 0 54 66"><path d="M4 12H50M18 12V5H36V12" fill="none" stroke="#aaa" stroke-width="6"/><rect x="8" y="12" width="38" height="49" rx="8" fill="none" stroke="#a6a6a6" stroke-width="6.5"/><path d="M27 26V46" stroke="#c8c8c8" stroke-width="4"/></svg></div>
<div class="abs" style="left:663.7px;top:268.79px;line-height:0"><svg width="5.8" height="5.6" viewBox="0 0 58 56"><rect x="3" y="10" width="30" height="40" rx="12" fill="#f6a52a"/><circle cx="24" cy="16" r="13" fill="#fac934"/><path d="M30 18L58 34 34 54z" fill="#5fbf2a"/></svg></div>
<div class="abs" style="left:146px;top:299.12px;width:528px;height:1px;background:#edf1f1"></div>
<div class="cb" style="left:149.3px;top:287.41px"></div>
<div class="t" style="left:165.30px;top:290px;font-size:4.6px;color:#6e6e6e;">2645</div>
<div class="t" style="left:217.60px;top:289px;font-size:4.4px;color:#6e6e6e;transform:translateX(-50%);">v443070</div>
<div class="t" style="left:264.30px;top:290px;font-size:4.4px;color:#666;transform:translateX(-50%);"><i class="k">学</i><i class="k">员</i></div>
<div class="t" style="left:287.00px;top:290px;font-size:4.4px;color:#666;transform:translateX(-50%);"><i class="k">总</i><i class="k">平</i><i class="k">台</i></div>
<div class="t" style="left:413.00px;top:290px;font-size:3.95px;color:#a8a8a8;transform:translateX(-50%);">PC<i class="k">端</i></div>
<div class="t" style="left:615.20px;top:289px;font-size:4.4px;color:#666;transform:translateX(-50%);">-</div>
<div class="t" style="left:330.80px;top:290px;font-size:4.4px;color:#666;transform:translateX(-50%);"><b style="color:#1f9a1f">0</b> <i class="k">元</i>/ <span style="color:#f02b2b">0.00</span> <i class="k">个</i>/<span style="color:#2a45e0">0</span><i class="k">分</i></div>
<div class="t" style="left:486.00px;top:290px;font-size:4.35px;color:#23952a;transform:translateX(-50%);font-weight:bold"><i class="k">正</i><i class="k">常</i></div>
<div class="t" style="left:523.50px;top:290px;font-size:3.95px;color:#22609e;transform:translateX(-50%);"><i class="k">立</i><i class="k">即</i><i class="k">开</i><i class="k">通</i></div>
<div class="abs" style="left:634.1px;top:287.41px;line-height:0"><svg width="6.6" height="6.2" viewBox="0 0 66 62"><path d="M36 6H11a5 5 0 0 0-5 5v40a5 5 0 0 0 5 5h40a5 5 0 0 0 5-5V27" fill="none" stroke="#aaa" stroke-width="6.5"/><path d="M20 44L58 6" stroke="#999" stroke-width="9"/></svg></div>
<div class="abs" style="left:649.0999999999999px;top:287.21px;line-height:0"><svg width="5.4" height="6.6" viewBox="0 0 54 66"><path d="M4 12H50M18 12V5H36V12" fill="none" stroke="#aaa" stroke-width="6"/><rect x="8" y="12" width="38" height="49" rx="8" fill="none" stroke="#a6a6a6" stroke-width="6.5"/><path d="M27 26V46" stroke="#c8c8c8" stroke-width="4"/></svg></div>
<div class="abs" style="left:663.7px;top:287.11px;line-height:0"><svg width="5.8" height="5.6" viewBox="0 0 58 56"><rect x="3" y="10" width="30" height="40" rx="12" fill="#f6a52a"/><circle cx="24" cy="16" r="13" fill="#fac934"/><path d="M30 18L58 34 34 54z" fill="#5fbf2a"/></svg></div>
<div class="abs" style="left:146px;top:317.44px;width:528px;height:1px;background:#edf1f1"></div>
<div class="cb" style="left:149.3px;top:305.73px"></div>
<div class="t" style="left:165.30px;top:308px;font-size:4.6px;color:#6e6e6e;">2644</div>
<div class="t" style="left:217.60px;top:308px;font-size:4.4px;color:#6e6e6e;transform:translateX(-50%);">v685739</div>
<div class="t" style="left:264.30px;top:308px;font-size:4.4px;color:#666;transform:translateX(-50%);"><i class="k">学</i><i class="k">员</i></div>
<div class="t" style="left:287.00px;top:308px;font-size:4.4px;color:#666;transform:translateX(-50%);"><i class="k">总</i><i class="k">平</i><i class="k">台</i></div>
<div class="t" style="left:413.00px;top:308px;font-size:3.95px;color:#a8a8a8;transform:translateX(-50%);">PC<i class="k">端</i></div>
<div class="t" style="left:615.20px;top:308px;font-size:4.4px;color:#666;transform:translateX(-50%);">-</div>
<div class="t" style="left:330.80px;top:308px;font-size:4.4px;color:#666;transform:translateX(-50%);"><b style="color:#1f9a1f">0</b> <i class="k">元</i>/ <span style="color:#f02b2b">0.00</span> <i class="k">个</i>/<span style="color:#2a45e0">0</span><i class="k">分</i></div>
<div class="t" style="left:486.00px;top:308px;font-size:4.35px;color:#23952a;transform:translateX(-50%);font-weight:bold"><i class="k">正</i><i class="k">常</i></div>
<div class="t" style="left:523.50px;top:308px;font-size:3.95px;color:#22609e;transform:translateX(-50%);"><i class="k">立</i><i class="k">即</i><i class="k">开</i><i class="k">通</i></div>
<div class="abs" style="left:634.1px;top:305.73px;line-height:0"><svg width="6.6" height="6.2" viewBox="0 0 66 62"><path d="M36 6H11a5 5 0 0 0-5 5v40a5 5 0 0 0 5 5h40a5 5 0 0 0 5-5V27" fill="none" stroke="#aaa" stroke-width="6.5"/><path d="M20 44L58 6" stroke="#999" stroke-width="9"/></svg></div>
<div class="abs" style="left:649.0999999999999px;top:305.53px;line-height:0"><svg width="5.4" height="6.6" viewBox="0 0 54 66"><path d="M4 12H50M18 12V5H36V12" fill="none" stroke="#aaa" stroke-width="6"/><rect x="8" y="12" width="38" height="49" rx="8" fill="none" stroke="#a6a6a6" stroke-width="6.5"/><path d="M27 26V46" stroke="#c8c8c8" stroke-width="4"/></svg></div>
<div class="abs" style="left:663.7px;top:305.43px;line-height:0"><svg width="5.8" height="5.6" viewBox="0 0 58 56"><rect x="3" y="10" width="30" height="40" rx="12" fill="#f6a52a"/><circle cx="24" cy="16" r="13" fill="#fac934"/><path d="M30 18L58 34 34 54z" fill="#5fbf2a"/></svg></div>
<div class="abs" style="left:146px;top:335.76px;width:528px;height:1px;background:#edf1f1"></div>
<div class="cb" style="left:149.3px;top:324.05px"></div>
<div class="t" style="left:165.30px;top:326px;font-size:4.6px;color:#6e6e6e;">2643</div>
<div class="t" style="left:217.60px;top:326px;font-size:4.4px;color:#6e6e6e;transform:translateX(-50%);">v659658</div>
<div class="t" style="left:264.30px;top:326px;font-size:4.4px;color:#666;transform:translateX(-50%);"><i class="k">学</i><i class="k">员</i></div>
<div class="t" style="left:287.00px;top:326px;font-size:4.4px;color:#666;transform:translateX(-50%);"><i class="k">总</i><i class="k">平</i><i class="k">台</i></div>
<div class="t" style="left:413.00px;top:326px;font-size:3.95px;color:#a8a8a8;transform:translateX(-50%);">PC<i class="k">端</i></div>
<div class="t" style="left:615.20px;top:326px;font-size:4.4px;color:#666;transform:translateX(-50%);">-</div>
<div class="t" style="left:330.80px;top:326px;font-size:4.4px;color:#666;transform:translateX(-50%);"><b style="color:#1f9a1f">0</b> <i class="k">元</i>/ <span style="color:#f02b2b">0.00</span> <i class="k">个</i>/<span style="color:#2a45e0">0</span><i class="k">分</i></div>
<div class="t" style="left:486.00px;top:326px;font-size:4.35px;color:#23952a;transform:translateX(-50%);font-weight:bold"><i class="k">正</i><i class="k">常</i></div>
<div class="t" style="left:523.50px;top:326px;font-size:3.95px;color:#22609e;transform:translateX(-50%);"><i class="k">立</i><i class="k">即</i><i class="k">开</i><i class="k">通</i></div>
<div class="abs" style="left:634.1px;top:324.05px;line-height:0"><svg width="6.6" height="6.2" viewBox="0 0 66 62"><path d="M36 6H11a5 5 0 0 0-5 5v40a5 5 0 0 0 5 5h40a5 5 0 0 0 5-5V27" fill="none" stroke="#aaa" stroke-width="6.5"/><path d="M20 44L58 6" stroke="#999" stroke-width="9"/></svg></div>
<div class="abs" style="left:649.0999999999999px;top:323.85px;line-height:0"><svg width="5.4" height="6.6" viewBox="0 0 54 66"><path d="M4 12H50M18 12V5H36V12" fill="none" stroke="#aaa" stroke-width="6"/><rect x="8" y="12" width="38" height="49" rx="8" fill="none" stroke="#a6a6a6" stroke-width="6.5"/><path d="M27 26V46" stroke="#c8c8c8" stroke-width="4"/></svg></div>
<div class="abs" style="left:663.7px;top:323.75px;line-height:0"><svg width="5.8" height="5.6" viewBox="0 0 58 56"><rect x="3" y="10" width="30" height="40" rx="12" fill="#f6a52a"/><circle cx="24" cy="16" r="13" fill="#fac934"/><path d="M30 18L58 34 34 54z" fill="#5fbf2a"/></svg></div>
<div class="abs" style="left:146px;top:354.08px;width:528px;height:1px;background:#edf1f1"></div>
<div class="cb" style="left:149.3px;top:342.37px"></div>
<div class="t" style="left:165.30px;top:345px;font-size:4.6px;color:#6e6e6e;">2642</div>
<div class="t" style="left:217.60px;top:344px;font-size:4.4px;color:#6e6e6e;transform:translateX(-50%);">v130685</div>
<div class="t" style="left:264.30px;top:345px;font-size:4.4px;color:#666;transform:translateX(-50%);"><i class="k">学</i><i class="k">员</i></div>
<div class="t" style="left:287.00px;top:345px;font-size:4.4px;color:#666;transform:translateX(-50%);"><i class="k">总</i><i class="k">平</i><i class="k">台</i></div>
<div class="t" style="left:413.00px;top:344px;font-size:3.95px;color:#a8a8a8;transform:translateX(-50%);">PC<i class="k">端</i></div>
<div class="t" style="left:615.20px;top:344px;font-size:4.4px;color:#666;transform:translateX(-50%);">-</div>
<div class="t" style="left:330.80px;top:345px;font-size:4.4px;color:#666;transform:translateX(-50%);"><b style="color:#1f9a1f">0</b> <i class="k">元</i>/ <span style="color:#f02b2b">0.00</span> <i class="k">个</i>/<span style="color:#2a45e0">0</span><i class="k">分</i></div>
<div class="t" style="left:486.00px;top:345px;font-size:4.35px;color:#23952a;transform:translateX(-50%);font-weight:bold"><i class="k">正</i><i class="k">常</i></div>
<div class="t" style="left:523.50px;top:344px;font-size:3.95px;color:#22609e;transform:translateX(-50%);"><i class="k">立</i><i class="k">即</i><i class="k">开</i><i class="k">通</i></div>
<div class="abs" style="left:634.1px;top:342.37px;line-height:0"><svg width="6.6" height="6.2" viewBox="0 0 66 62"><path d="M36 6H11a5 5 0 0 0-5 5v40a5 5 0 0 0 5 5h40a5 5 0 0 0 5-5V27" fill="none" stroke="#aaa" stroke-width="6.5"/><path d="M20 44L58 6" stroke="#999" stroke-width="9"/></svg></div>
<div class="abs" style="left:649.0999999999999px;top:342.17px;line-height:0"><svg width="5.4" height="6.6" viewBox="0 0 54 66"><path d="M4 12H50M18 12V5H36V12" fill="none" stroke="#aaa" stroke-width="6"/><rect x="8" y="12" width="38" height="49" rx="8" fill="none" stroke="#a6a6a6" stroke-width="6.5"/><path d="M27 26V46" stroke="#c8c8c8" stroke-width="4"/></svg></div>
<div class="abs" style="left:663.7px;top:342.07px;line-height:0"><svg width="5.8" height="5.6" viewBox="0 0 58 56"><rect x="3" y="10" width="30" height="40" rx="12" fill="#f6a52a"/><circle cx="24" cy="16" r="13" fill="#fac934"/><path d="M30 18L58 34 34 54z" fill="#5fbf2a"/></svg></div>
<div class="abs" style="left:146px;top:372.40px;width:528px;height:1px;background:#edf1f1"></div>
<div class="cb" style="left:149.3px;top:360.69px"></div>
<div class="t" style="left:165.30px;top:363px;font-size:4.6px;color:#6e6e6e;">2641</div>
<div class="t" style="left:217.60px;top:363px;font-size:4.4px;color:#6e6e6e;transform:translateX(-50%);">v680346</div>
<div class="t" style="left:264.30px;top:363px;font-size:4.4px;color:#666;transform:translateX(-50%);"><i class="k">学</i><i class="k">员</i></div>
<div class="t" style="left:287.00px;top:363px;font-size:4.4px;color:#666;transform:translateX(-50%);"><i class="k">总</i><i class="k">平</i><i class="k">台</i></div>
<div class="t" style="left:413.00px;top:363px;font-size:3.95px;color:#a8a8a8;transform:translateX(-50%);">PC<i class="k">端</i></div>
<div class="t" style="left:615.20px;top:363px;font-size:4.4px;color:#666;transform:translateX(-50%);">-</div>
<div class="t" style="left:330.80px;top:363px;font-size:4.4px;color:#666;transform:translateX(-50%);"><b style="color:#1f9a1f">0</b> <i class="k">元</i>/ <span style="color:#f02b2b">0.00</span> <i class="k">个</i>/<span style="color:#2a45e0">0</span><i class="k">分</i></div>
<div class="t" style="left:486.00px;top:363px;font-size:4.35px;color:#23952a;transform:translateX(-50%);font-weight:bold"><i class="k">正</i><i class="k">常</i></div>
<div class="t" style="left:523.50px;top:363px;font-size:3.95px;color:#22609e;transform:translateX(-50%);"><i class="k">立</i><i class="k">即</i><i class="k">开</i><i class="k">通</i></div>
<div class="abs" style="left:634.1px;top:360.69px;line-height:0"><svg width="6.6" height="6.2" viewBox="0 0 66 62"><path d="M36 6H11a5 5 0 0 0-5 5v40a5 5 0 0 0 5 5h40a5 5 0 0 0 5-5V27" fill="none" stroke="#aaa" stroke-width="6.5"/><path d="M20 44L58 6" stroke="#999" stroke-width="9"/></svg></div>
<div class="abs" style="left:649.0999999999999px;top:360.49px;line-height:0"><svg width="5.4" height="6.6" viewBox="0 0 54 66"><path d="M4 12H50M18 12V5H36V12" fill="none" stroke="#aaa" stroke-width="6"/><rect x="8" y="12" width="38" height="49" rx="8" fill="none" stroke="#a6a6a6" stroke-width="6.5"/><path d="M27 26V46" stroke="#c8c8c8" stroke-width="4"/></svg></div>
<div class="abs" style="left:663.7px;top:360.39px;line-height:0"><svg width="5.8" height="5.6" viewBox="0 0 58 56"><rect x="3" y="10" width="30" height="40" rx="12" fill="#f6a52a"/><circle cx="24" cy="16" r="13" fill="#fac934"/><path d="M30 18L58 34 34 54z" fill="#5fbf2a"/></svg></div>
<div class="abs" style="left:146px;top:390.72px;width:528px;height:1px;background:#edf1f1"></div>
<div class="cb" style="left:149.3px;top:379.01px"></div>
<div class="t" style="left:165.30px;top:381px;font-size:4.6px;color:#6e6e6e;">2640</div>
<div class="t" style="left:217.60px;top:381px;font-size:4.4px;color:#6e6e6e;transform:translateX(-50%);">v123456</div>
<div class="t" style="left:264.30px;top:381px;font-size:4.4px;color:#666;transform:translateX(-50%);"><i class="k">学</i><i class="k">员</i></div>
<div class="t" style="left:287.00px;top:381px;font-size:4.4px;color:#666;transform:translateX(-50%);"><i class="k">总</i><i class="k">平</i><i class="k">台</i></div>
<div class="t" style="left:413.00px;top:381px;font-size:3.95px;color:#a8a8a8;transform:translateX(-50%);">PC<i class="k">端</i></div>
<div class="t" style="left:615.20px;top:381px;font-size:4.4px;color:#666;transform:translateX(-50%);">-</div>
<div class="t" style="left:330.80px;top:381px;font-size:4.4px;color:#666;transform:translateX(-50%);"><b style="color:#1f9a1f">0</b> <i class="k">元</i>/ <span style="color:#f02b2b">0.00</span> <i class="k">个</i>/<span style="color:#2a45e0">0</span><i class="k">分</i></div>
<div class="t" style="left:486.00px;top:381px;font-size:4.35px;color:#23952a;transform:translateX(-50%);font-weight:bold"><i class="k">正</i><i class="k">常</i></div>
<div class="t" style="left:523.50px;top:381px;font-size:3.95px;color:#22609e;transform:translateX(-50%);"><i class="k">立</i><i class="k">即</i><i class="k">开</i><i class="k">通</i></div>
<div class="abs" style="left:634.1px;top:379.01px;line-height:0"><svg width="6.6" height="6.2" viewBox="0 0 66 62"><path d="M36 6H11a5 5 0 0 0-5 5v40a5 5 0 0 0 5 5h40a5 5 0 0 0 5-5V27" fill="none" stroke="#aaa" stroke-width="6.5"/><path d="M20 44L58 6" stroke="#999" stroke-width="9"/></svg></div>
<div class="abs" style="left:649.0999999999999px;top:378.81px;line-height:0"><svg width="5.4" height="6.6" viewBox="0 0 54 66"><path d="M4 12H50M18 12V5H36V12" fill="none" stroke="#aaa" stroke-width="6"/><rect x="8" y="12" width="38" height="49" rx="8" fill="none" stroke="#a6a6a6" stroke-width="6.5"/><path d="M27 26V46" stroke="#c8c8c8" stroke-width="4"/></svg></div>
<div class="abs" style="left:663.7px;top:378.71px;line-height:0"><svg width="5.8" height="5.6" viewBox="0 0 58 56"><rect x="3" y="10" width="30" height="40" rx="12" fill="#f6a52a"/><circle cx="24" cy="16" r="13" fill="#fac934"/><path d="M30 18L58 34 34 54z" fill="#5fbf2a"/></svg></div>
<div class="abs" style="left:133px;top:379.5px;width:552px;height:18px;background:#fff;border-top:1px solid #eceef2"></div>
<div class="cb" style="left:138.5px;top:386px"></div>
<div class="t" style="left:146.00px;top:388px;font-size:4.5px;color:#555;"><i class="k">全</i><i class="k">选</i></div>
<div class="bx" style="left:164px;top:384.2px;width:27.5px;height:10.2px"></div>
<div class="t" style="left:177.75px;top:388px;font-size:4.5px;color:#555;transform:translateX(-50%);"><i class="k">发</i><i class="k">邮</i><i class="k">件</i></div>
<div class="bx" style="left:196.5px;top:384.2px;width:26.5px;height:10.2px"></div>
<div class="t" style="left:209.75px;top:388px;font-size:4.5px;color:#555;transform:translateX(-50%);"><i class="k">发</i><i class="k">短</i><i class="k">信</i></div>
<div class="bx" style="left:229.8px;top:384.2px;width:31.2px;height:10.2px"></div>
<div class="t" style="left:245.40px;top:388px;font-size:4.5px;color:#555;transform:translateX(-50%);"><i class="k">发</i><i class="k">站</i><i class="k">内</i><i class="k">信</i></div>
<div class="bx" style="left:267px;top:384.2px;width:22.0px;height:10.2px"></div>
<div class="t" style="left:278.00px;top:388px;font-size:4.5px;color:#555;transform:translateX(-50%);"><i class="k">充</i><i class="k">值</i></div>
<div class="bx" style="left:295.6px;top:384.2px;width:28.2px;height:10.2px"></div>
<div class="t" style="left:309.70px;top:388px;font-size:4.5px;color:#555;transform:translateX(-50%);"><i class="k">开</i><i class="k">通</i>VIP</div>
<div class="bx" style="left:330.5px;top:384.2px;width:22.2px;height:10.2px"></div>
<div class="t" style="left:341.60px;top:388px;font-size:4.5px;color:#555;transform:translateX(-50%);"><i class="k">打</i><i class="k">印</i></div>
<div class="bx" style="left:359px;top:384.2px;width:22.0px;height:10.2px"></div>
<div class="t" style="left:370.00px;top:388px;font-size:4.5px;color:#555;transform:translateX(-50%);"><i class="k">导</i><i class="k">出</i></div>
<div class="bx" style="left:387.6px;top:384.2px;width:34.8px;height:10.2px"></div>
<div class="t" style="left:405.00px;top:388px;font-size:4.5px;color:#555;transform:translateX(-50%);"><i class="k">转</i><i class="k">移</i><i class="k">业</i><i class="k">务</i><i class="k">员</i></div>
<div class="bx" style="left:428.6px;top:384.2px;width:40.9px;height:10.2px"></div>
<div class="t" style="left:449.05px;top:388px;font-size:4.5px;color:#555;transform:translateX(-50%);"><i class="k">一</i><i class="k">键</i><i class="k">转</i><i class="k">入</i>CRM</div>
<div class="t" style="left:470.00px;top:388px;font-size:4.5px;color:#555;">406<i class="k">条</i></div>
<div class="bx" style="left:484px;top:384.2px;width:15.5px;height:10.2px;"></div>
<div class="t" style="left:491.75px;top:388px;font-size:4.5px;color:#ccc;transform:translateX(-50%);"><i class="k">首</i><i class="k">页</i></div>
<div class="bx" style="left:503.4px;top:384.2px;width:19.2px;height:10.2px;"></div>
<div class="t" style="left:513.00px;top:388px;font-size:4.5px;color:#ccc;transform:translateX(-50%);"><i class="k">上</i><i class="k">一</i><i class="k">页</i></div>
<div class="bx" style="left:526.3px;top:384.2px;width:9.1px;height:10.2px;border-color:#5ab4c8;"></div>
<div class="t" style="left:530.85px;top:388px;font-size:4.5px;color:#2a8ab0;transform:translateX(-50%);">1</div>
<div class="bx" style="left:537.6px;top:384.2px;width:9.3px;height:10.2px;"></div>
<div class="t" style="left:542.25px;top:388px;font-size:4.5px;color:#555;transform:translateX(-50%);">2</div>
<div class="bx" style="left:548.9px;top:384.2px;width:9.3px;height:10.2px;"></div>
<div class="t" style="left:553.55px;top:388px;font-size:4.5px;color:#555;transform:translateX(-50%);">3</div>
<div class="bx" style="left:560.1999999999999px;top:384.2px;width:9.3px;height:10.2px;"></div>
<div class="t" style="left:564.85px;top:388px;font-size:4.5px;color:#555;transform:translateX(-50%);">4</div>
<div class="bx" style="left:571.4999999999999px;top:384.2px;width:9.3px;height:10.2px;"></div>
<div class="t" style="left:576.15px;top:388px;font-size:4.5px;color:#555;transform:translateX(-50%);">5</div>
<div class="bx" style="left:582.7999999999998px;top:384.2px;width:9.3px;height:10.2px;"></div>
<div class="t" style="left:587.45px;top:388px;font-size:4.5px;color:#555;transform:translateX(-50%);">6</div>
<div class="bx" style="left:594.0999999999998px;top:384.2px;width:9.3px;height:10.2px;"></div>
<div class="t" style="left:598.75px;top:388px;font-size:4.5px;color:#555;transform:translateX(-50%);">7</div>
<div class="bx" style="left:605.3999999999997px;top:384.2px;width:9.3px;height:10.2px;"></div>
<div class="t" style="left:610.05px;top:388px;font-size:4.5px;color:#555;transform:translateX(-50%);">8</div>
<div class="bx" style="left:616.6999999999997px;top:384.2px;width:9.3px;height:10.2px;"></div>
<div class="t" style="left:621.35px;top:388px;font-size:4.5px;color:#555;transform:translateX(-50%);">9</div>
<div class="bx" style="left:627.9999999999997px;top:384.2px;width:11.2px;height:10.2px;"></div>
<div class="t" style="left:633.60px;top:388px;font-size:4.5px;color:#555;transform:translateX(-50%);">10</div>
<div class="bx" style="left:642.6px;top:384.2px;width:20.2px;height:10.2px;"></div>
<div class="t" style="left:652.70px;top:388px;font-size:4.5px;color:#555;transform:translateX(-50%);"><i class="k">下</i><i class="k">一</i><i class="k">页</i></div>
<div class="bx" style="left:666.4px;top:384.2px;width:15.5px;height:10.2px;"></div>
<div class="t" style="left:674.15px;top:388px;font-size:4.5px;color:#555;transform:translateX(-50%);"><i class="k">末</i><i class="k">页</i></div>
</div></div>
</div></body></html>
